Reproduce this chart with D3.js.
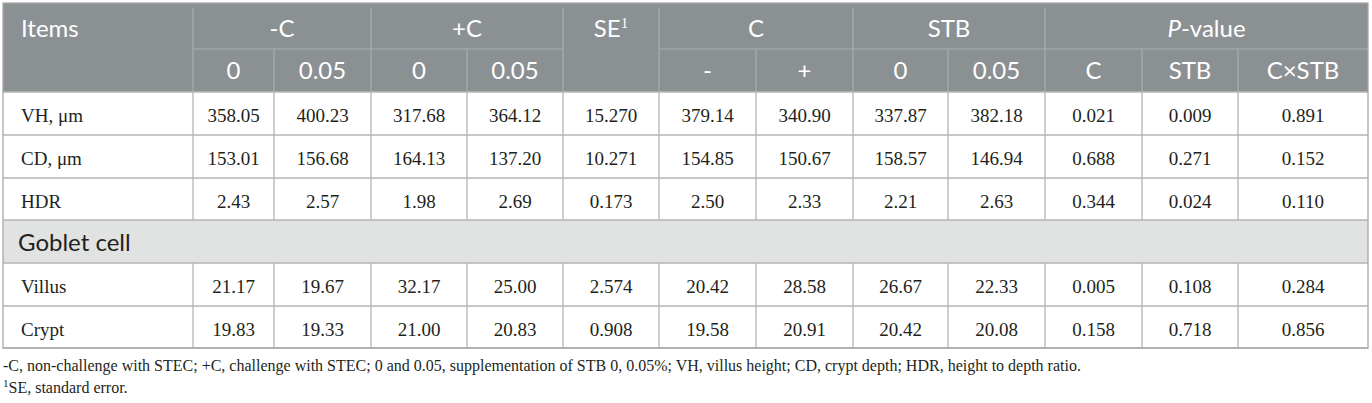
<!DOCTYPE html>
<html>
<head>
<meta charset="utf-8">
<script src="https://cdn.jsdelivr.net/npm/d3@7"></script>
<style>
  html, body { margin: 0; padding: 0; background: #fff; }
  svg { display: block; }
</style>
</head>
<body>
<svg id="chart" width="1372" height="403"></svg>
<script>
// ---------- data ----------
const groupHeaders = ["-C", "+C", "SE", "C", "STB", "P-value"];
const groupSpans   = [2, 2, 1, 2, 2, 3];
const subHeaders   = ["0", "0.05", "0", "0.05", "", "-", "+", "0", "0.05", "C", "STB", "C×STB"];
const sectionItems = ["VH, μm", "CD, μm", "HDR"];
const vhValues     = ["358.05", "400.23", "317.68", "364.12", "15.270", "379.14", "340.90", "337.87", "382.18", "0.021", "0.009", "0.891"];
const cdValues     = ["153.01", "156.68", "164.13", "137.20", "10.271", "154.85", "150.67", "158.57", "146.94", "0.688", "0.271", "0.152"];
const hdrValues    = ["2.43", "2.57", "1.98", "2.69", "0.173", "2.50", "2.33", "2.21", "2.63", "0.344", "0.024", "0.110"];
const gobletTitle  = "Goblet cell";
const gobletItems  = ["Villus", "Crypt"];
const villusValues = ["21.17", "19.67", "32.17", "25.00", "2.574", "20.42", "28.58", "26.67", "22.33", "0.005", "0.108", "0.284"];
const cryptValues  = ["19.83", "19.33", "21.00", "20.83", "0.908", "19.58", "20.91", "20.42", "20.08", "0.158", "0.718", "0.856"];
const footnote1 = "-C, non-challenge with STEC; +C, challenge with STEC; 0 and 0.05, supplementation of STB 0, 0.05%; VH, villus height; CD, crypt depth; HDR, height to depth ratio.";
const footnote2 = "SE, standard error.";

// ---------- layout ----------
const colEdgesPx = [3, 193, 274, 371, 467, 563, 659, 756, 853, 948, 1045, 1142, 1238, 1368];
const rowEdgesPx = [3, 49, 92, 135, 178, 220, 263, 306, 348];
const colKeys = d3.range(colEdgesPx.length);
const rowKeys = d3.range(rowEdgesPx.length);
const x = d3.scaleOrdinal().domain(colKeys).range(colEdgesPx);
const y = d3.scaleOrdinal().domain(rowKeys).range(rowEdgesPx);

const HEAD_BG = "#8b9093";
const HEAD_LINE = "#a9adaf";
const GOB_BG = "#e1e3e2";
const LINE = "#b4b4b4";
const TXT = "#231f20";
const SANS = "Lato, 'Open Sans', sans-serif";
const SERIF = "'Liberation Serif', 'Times New Roman', serif";

const svg = d3.select("#chart");

svg.append("rect")
  .attr("x", x(0)).attr("y", y(0))
  .attr("width", x(13) - x(0)).attr("height", y(2) - y(0))
  .attr("fill", HEAD_BG);

svg.append("rect")
  .attr("x", x(0)).attr("y", y(5))
  .attr("width", x(13) - x(0)).attr("height", y(6) - y(5))
  .attr("fill", GOB_BG);

let start = 1;
const groups = groupHeaders.map((g, i) => {
  const o = { label: g, c0: start, c1: start + groupSpans[i], rowspan: g === "SE" ? 2 : 1 };
  start += groupSpans[i];
  return o;
});

const hl = svg.append("g").attr("stroke", HEAD_LINE).attr("stroke-width", 1.2);
hl.selectAll("line.gv").data(groups).join("line")
  .attr("x1", d => x(d.c0)).attr("x2", d => x(d.c0))
  .attr("y1", y(0) + 5).attr("y2", y(2));
hl.selectAll("line.gh").data(groups.filter(d => d.rowspan === 1)).join("line")
  .attr("x1", d => x(d.c0)).attr("x2", d => x(d.c1))
  .attr("y1", y(1)).attr("y2", y(1));
const innerCols = [];
groups.forEach(g => { for (let c = g.c0 + 1; c < g.c1; c++) innerCols.push(c); });
hl.selectAll("line.iv").data(innerCols).join("line")
  .attr("x1", d => x(d)).attr("x2", d => x(d))
  .attr("y1", y(1)).attr("y2", y(2));

const ht = svg.append("g").attr("font-family", SANS).attr("font-size", 24).attr("fill", "#fff");
ht.append("text").attr("x", x(0) + 18).attr("y", y(0) + 34).text("Items");
const gt = ht.selectAll("text.g").data(groups).join("text")
  .attr("class", "g")
  .attr("text-anchor", "middle")
  .attr("x", d => (x(d.c0) + x(d.c1)) / 2)
  .attr("y", y(0) + 34);
gt.each(function(d) {
  const t = d3.select(this);
  if (d.label === "SE") {
    t.append("tspan").text("SE");
    t.append("tspan").attr("font-family", SERIF).attr("font-size", 15).attr("dy", -9).text("1");
  } else if (d.label === "P-value") {
    t.append("tspan").attr("font-style", "italic").text("P");
    t.append("tspan").text("-value");
  } else {
    t.text(d.label);
  }
});
ht.selectAll("text.s").data(subHeaders.map((s, i) => ({ s, i })).filter(d => d.s !== "")).join("text")
  .attr("class", "s")
  .attr("text-anchor", "middle")
  .attr("x", d => (x(d.i + 1) + x(d.i + 2)) / 2)
  .attr("y", y(1) + 30)
  .text(d => d.s);

const bodyRows = [
  { label: sectionItems[0], values: vhValues, r: 2 },
  { label: sectionItems[1], values: cdValues, r: 3 },
  { label: sectionItems[2], values: hdrValues, r: 4 },
  { label: gobletItems[0], values: villusValues, r: 6 },
  { label: gobletItems[1], values: cryptValues, r: 7 }
];

const bl = svg.append("g").attr("stroke", LINE).attr("stroke-width", 1.3).attr("fill", "none");
bl.selectAll("line.h").data([2, 3, 4, 5, 6, 7, 8]).join("line")
  .attr("x1", x(0)).attr("x2", x(13))
  .attr("y1", d => y(d)).attr("y2", d => y(d));
const vsegs = [];
bodyRows.forEach(row => { for (let c = 1; c < 13; c++) vsegs.push({ c, r: row.r }); });
bl.selectAll("line.v").data(vsegs).join("line")
  .attr("x1", d => x(d.c)).attr("x2", d => x(d.c))
  .attr("y1", d => y(d.r)).attr("y2", d => y(d.r + 1));
bl.append("rect")
  .attr("x", x(0)).attr("y", y(0))
  .attr("width", x(13) - x(0)).attr("height", y(8) - y(0))
  .attr("stroke", "#a8a8a8");

const bt = svg.append("g").attr("font-family", SERIF).attr("font-size", 19).attr("fill", TXT);
bt.selectAll("text.lbl").data(bodyRows).join("text")
  .attr("class", "lbl")
  .attr("x", x(0) + 18)
  .attr("y", d => y(d.r) + 30)
  .text(d => d.label);
const cells = [];
bodyRows.forEach(row => row.values.forEach((v, i) => cells.push({ v, c: i + 1, r: row.r })));
bt.selectAll("text.val").data(cells).join("text")
  .attr("class", "val")
  .attr("text-anchor", "middle")
  .attr("x", d => (x(d.c) + x(d.c + 1)) / 2)
  .attr("y", d => y(d.r) + 30)
  .text(d => d.v);

svg.append("text")
  .attr("font-family", SANS).attr("font-size", 24).attr("fill", TXT)
  .attr("x", x(0) + 15).attr("y", y(5) + 31)
  .text(gobletTitle);

const fn = svg.append("g").attr("font-family", SERIF).attr("font-size", 16).attr("fill", TXT);
fn.append("text").attr("x", x(0)).attr("y", 371).text(footnote1);
const f2 = fn.append("text").attr("x", x(0)).attr("y", 393);
f2.append("tspan").attr("font-size", 11).attr("dy", -6).text("1");
f2.append("tspan").attr("dy", 6).text(footnote2);
</script>
</body>
</html>
